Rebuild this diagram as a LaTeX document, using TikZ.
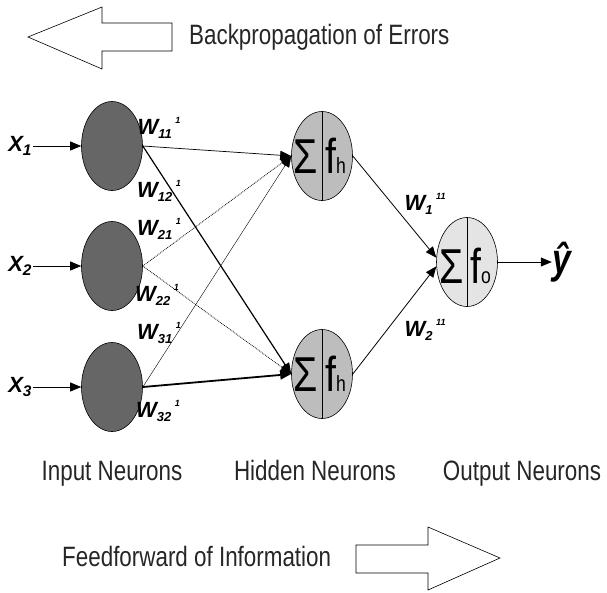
\documentclass[tikz,border=0pt]{standalone}
\usepackage{fontspec}
\setmainfont{Liberation Sans}
\newfontfamily\narrowfont[FakeStretch=0.8]{Liberation Sans}
\usetikzlibrary{shapes.geometric, arrows.meta, positioning}
\definecolor{inputgray}{HTML}{666666}
\definecolor{hiddengray}{HTML}{BDBDBD}
\definecolor{outputgray}{HTML}{E4E4E4}
\newcommand{\weight}[2]{W\raisebox{-4pt}{\fontsize{13}{13}\selectfont #1}\,\raisebox{11pt}{\fontsize{9}{9}\selectfont #2}}

\begin{document}
\begin{tikzpicture}[
    x=1pt, y=-1pt,
    neuron/.style={draw, ellipse, minimum width=61pt, minimum height=89pt, inner sep=0pt, line width=0.6pt},
    caption/.style={font=\narrowfont\fontsize{28}{30}\selectfont, inner sep=0pt, text=black!85},
    sumsign/.style={font=\narrowfont\fontsize{49}{50}\selectfont, inner sep=0pt},
    wlabel/.style={font=\bfseries\itshape\fontsize{22}{22}\selectfont, inner sep=0pt},
    xlabel/.style={font=\bfseries\itshape\fontsize{22}{22}\selectfont, inner sep=1pt},
    arr/.style={-{Triangle[length=11pt, width=9pt]}, line width=0.8pt},
    block/.style={draw, line width=0.6pt, fill=white},
]
\useasboundingbox (0,0) rectangle (607,592);

% Backpropagation arrow
\draw[block] (28,37) -- (102,7) -- (102,23) -- (172,23) -- (172,51) -- (102,51) -- (102,69) -- cycle;
\node[caption, anchor=base west] (back) at (189,44) {Backpropagation of Errors};

% Input layer
\node[neuron, fill=inputgray] (n1) at (112,146) {};
\node[neuron, fill=inputgray] (n2) at (112,266) {};
\node[neuron, fill=inputgray] (n3) at (112,387) {};
\node[xlabel, left=48pt of n1] (x1) {X\textsubscript{1}};
\node[xlabel, left=48pt of n2] (x2) {X\textsubscript{2}};
\node[xlabel, left=48pt of n3] (x3) {X\textsubscript{3}};
\draw[arr] (x1) -- (n1);
\draw[arr] (x2) -- (n2);
\draw[arr] (x3) -- (n3);

% Hidden layer
\node[neuron, fill=hiddengray] (h1) at (322,156) {};
\node[neuron, fill=hiddengray] (h2) at (322,374) {};
\draw (h1.north) -- (h1.south);
\draw (h2.north) -- (h2.south);
\node[sumsign, anchor=base east] (s1) at ([xshift=-4pt, yshift=-17pt]h1.center) {Σ};
\node[sumsign, anchor=base west] (f1) at ([xshift=3pt, yshift=-17pt]h1.center) {f{\fontsize{22}{22}\selectfont h}};
\node[sumsign, anchor=base east] (s2) at ([xshift=-4pt, yshift=-17pt]h2.center) {Σ};
\node[sumsign, anchor=base west] (f2) at ([xshift=3pt, yshift=-17pt]h2.center) {f{\fontsize{22}{22}\selectfont h}};

% Output layer
\node[neuron, fill=outputgray] (o) at (467,262) {};
\draw (o.north) -- (o.south);
\node[sumsign, anchor=base east] (so) at ([xshift=-3pt, yshift=-21pt]o.center) {Σ};
\node[sumsign, anchor=base west] (fo) at ([xshift=3pt, yshift=-21pt]o.center) {f{\fontsize{22}{22}\selectfont o}};
\node[font=\narrowfont\bfseries\itshape\fontsize{42}{44}\selectfont, inner sep=0pt, right=54pt of o] (yhat) {ŷ};

% Weighted connections
\draw[arr, line width=0.7pt] (n1.east) -- (h1.west);
\draw[arr, line width=1.2pt] (n1.east) -- (h2.west);
\draw[arr, densely dotted] (n2.east) -- (h1.west);
\draw[arr, densely dotted] (n2.east) -- (h2.west);
\draw[arr, line width=0.4pt] (n3.east) -- (h1.west);
\draw[arr, line width=1.8pt] (n3.east) -- (h2.west);
\draw[arr] (h1.east) -- (o.172);
\draw[arr] (h2.east) -- (o.188);
\draw[arr] (o.east) -- (yhat);

% Weight labels
\node[wlabel] (w11) at (159,128) {\weight{11}{1}};
\node[wlabel] (w12) at (159,191) {\weight{12}{1}};
\node[wlabel] (w21) at (159,229) {\weight{21}{1}};
\node[wlabel] (w22) at (157,295) {\weight{22}{1}};
\node[wlabel] (w31) at (159,333) {\weight{31}{1}};
\node[wlabel] (w32) at (158,411) {\weight{32}{1}};
\node[wlabel] (wo1) at (425,204) {\weight{1}{11}};
\node[wlabel] (wo2) at (425,330) {\weight{2}{11}};

% Layer captions
\node[caption, anchor=base] (cin) at (112,480) {Input Neurons};
\node[caption, anchor=base] (chid) at (315,480) {Hidden Neurons};
\node[caption, anchor=base] (cout) at (522,480) {Output Neurons};

% Feedforward arrow
\node[caption, anchor=base west] (fwd) at (62,566) {Feedforward of Information};
\draw[block] (356,545) -- (428,545) -- (428,527) -- (500,558) -- (428,590) -- (428,573) -- (356,573) -- cycle;

\end{tikzpicture}
\end{document}
